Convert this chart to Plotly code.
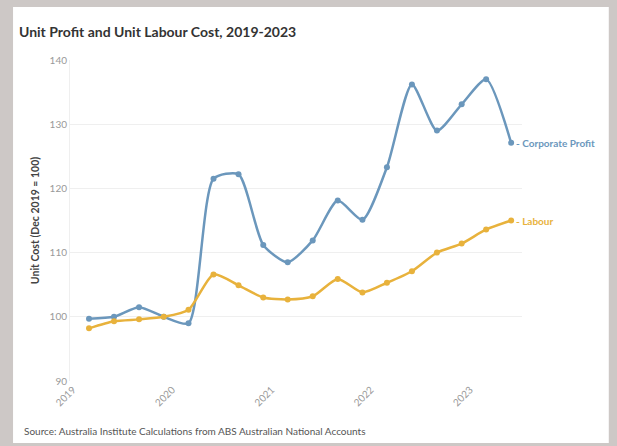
import plotly.graph_objects as go

dates = ["2019-03-01", "2019-06-01", "2019-09-01", "2019-12-01",
         "2020-03-01", "2020-06-01", "2020-09-01", "2020-12-01",
         "2021-03-01", "2021-06-01", "2021-09-01", "2021-12-01",
         "2022-03-01", "2022-06-01", "2022-09-01", "2022-12-01",
         "2023-03-01", "2023-06-01"]
corporate_profit = [99.7, 100.0, 101.5, 100.0, 99.0, 121.5, 122.2, 111.2, 108.5, 111.9,
                    118.1, 115.1, 123.3, 136.2, 129.0, 133.1, 137.0, 127.1]
labour = [98.2, 99.3, 99.6, 100.0, 101.1, 106.6, 104.9, 103.0, 102.7, 103.2,
          105.9, 103.8, 105.3, 107.1, 110.0, 111.4, 113.6, 115.0]

BLUE = "#6b97bc"
GOLD = "#e8b23c"
FONT = "Lato"
BG = "#cdc8c6"

fig = go.Figure()
fig.add_trace(go.Scatter(x=dates, y=corporate_profit, mode="lines+markers",
                         line=dict(color=BLUE, width=2.5, shape="spline", smoothing=0.65),
                         marker=dict(color=BLUE, size=6), name="Corporate Profit"))
fig.add_trace(go.Scatter(x=dates, y=labour, mode="lines+markers",
                         line=dict(color=GOLD, width=2.5, shape="spline", smoothing=0.65),
                         marker=dict(color=GOLD, size=6), name="Labour"))

fig.add_annotation(x=dates[-1], y=corporate_profit[-1], text="<b>- Corporate Profit</b>",
                   showarrow=False, xanchor="left", xshift=3,
                   font=dict(family=FONT, size=10, color=BLUE))
fig.add_annotation(x=dates[-1], y=labour[-1], text="<b>- Labour</b>",
                   showarrow=False, xanchor="left", xshift=3,
                   font=dict(family=FONT, size=10, color=GOLD))
fig.add_annotation(xref="paper", yref="paper", x=-0.106, y=-0.156,
                   text="Source: Australia Institute Calculations from ABS Australian National Accounts",
                   showarrow=False, xanchor="left", yanchor="middle",
                   font=dict(family=FONT, size=10, color="#555"))

fig.add_shape(type="rect", xref="paper", yref="paper",
              x0=-0.126, x1=1.192, y0=-0.193, y1=1.165,
              fillcolor="white", line=dict(width=0), layer="below")

fig.update_layout(
    width=617, height=446,
    margin=dict(l=70, r=95, t=60, b=65),
    paper_bgcolor=BG,
    plot_bgcolor="white",
    showlegend=False,
    font=dict(family=FONT, color="#999"),
    title=dict(text="<b>Unit Profit and Unit Labour Cost, 2019-2023</b>",
               x=19/617, xanchor="left", y=1-32/446, yanchor="middle",
               font=dict(family=FONT, size=14, color="#333")),
)
fig.update_xaxes(type="date", range=["2018-12-21", "2023-07-11"],
                 tickformat="%Y", dtick="M12", tick0="2019-01-01", tickangle=-45,
                 showgrid=False, zeroline=False, showline=False,
                 tickfont=dict(family=FONT, size=10, color="#999"))
fig.update_yaxes(range=[90, 140], dtick=10, showgrid=True, gridcolor="#efefef",
                 zeroline=False, showline=True, linecolor="#efefef",
                 tickfont=dict(family=FONT, size=10, color="#999"),
                 title=dict(text="<b>Unit Cost (Dec 2019 = 100)</b>", standoff=7,
                            font=dict(family=FONT, size=10.5, color="#444")))

fig.write_html("out.html", config={"displayModeBar": False},
               post_script="document.body.style.margin='0';document.body.style.background='%s';" % BG)
